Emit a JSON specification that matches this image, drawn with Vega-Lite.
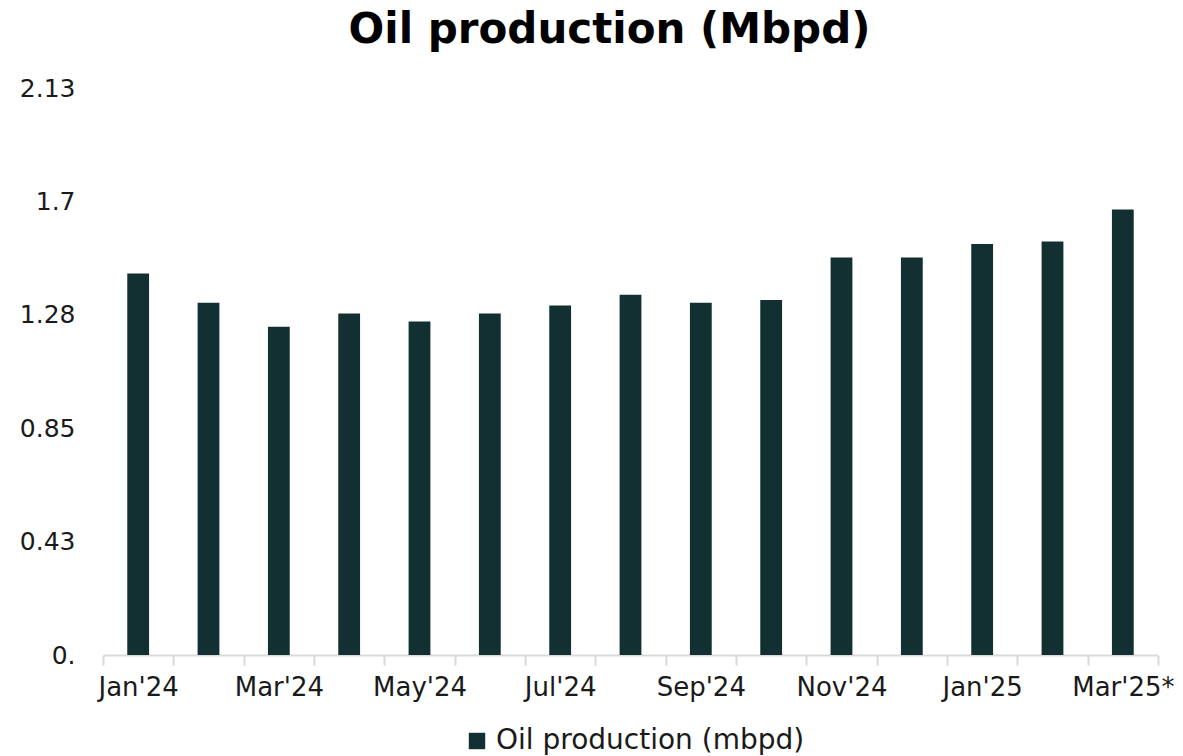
{
  "$schema": "https://vega.github.io/schema/vega-lite/v6.json",
  "autosize": "none",
  "width": 1055,
  "height": 567,
  "padding": {"left": 103, "top": 88, "right": 25, "bottom": 101},
  "background": "white",
  "title": {
    "text": "Oil production (Mbpd)",
    "font": "DejaVu Sans",
    "fontSize": 42,
    "fontWeight": "bold",
    "color": "#000000",
    "anchor": "middle",
    "dx": -21,
    "offset": 24
  },
  "data": {
    "values": [
      {"month": "Jan'24", "value": 1.43},
      {"month": "Feb'24", "value": 1.32},
      {"month": "Mar'24", "value": 1.23},
      {"month": "Apr'24", "value": 1.28},
      {"month": "May'24", "value": 1.25},
      {"month": "Jun'24", "value": 1.28},
      {"month": "Jul'24", "value": 1.31},
      {"month": "Aug'24", "value": 1.35},
      {"month": "Sep'24", "value": 1.32},
      {"month": "Oct'24", "value": 1.33},
      {"month": "Nov'24", "value": 1.49},
      {"month": "Dec'24", "value": 1.49},
      {"month": "Jan'25", "value": 1.54},
      {"month": "Feb'25", "value": 1.55},
      {"month": "Mar'25*", "value": 1.67}
    ]
  },
  "mark": {"type": "bar", "width": {"band": 0.31}},
  "encoding": {
    "x": {
      "field": "month",
      "type": "nominal",
      "sort": null,
      "scale": {"paddingInner": 0, "paddingOuter": 0},
      "axis": {
        "title": null,
        "labelAngle": 0,
        "tickBand": "extent",
        "labelExpr": "indexof(['Jan\\'24','Mar\\'24','May\\'24','Jul\\'24','Sep\\'24','Nov\\'24','Jan\\'25','Mar\\'25*'], datum.value) >= 0 ? datum.value : ''",
        "labelFont": "DejaVu Sans",
        "labelFontSize": 26,
        "labelColor": "#1a1a1a",
        "labelPadding": 9,
        "domainColor": "#d9d9d9",
        "domainWidth": 2,
        "tickColor": "#d9d9d9",
        "tickWidth": 2,
        "tickSize": 10,
        "grid": false
      }
    },
    "y": {
      "field": "value",
      "type": "quantitative",
      "scale": {"domain": [0, 2.125], "nice": false},
      "axis": {
        "title": null,
        "values": [0, 0.425, 0.85, 1.275, 1.7, 2.125],
        "labelExpr": "datum.value == 0 ? '0.' : datum.value == 0.425 ? '0.43' : datum.value == 0.85 ? '0.85' : datum.value == 1.275 ? '1.28' : datum.value == 1.7 ? '1.7' : '2.13'",
        "labelFont": "DejaVu Sans",
        "labelFontSize": 25,
        "labelColor": "#1a1a1a",
        "labelPadding": 28,
        "ticks": false,
        "domain": false,
        "grid": false
      }
    },
    "color": {
      "datum": "Oil production (mbpd)",
      "type": "nominal",
      "scale": {"range": ["#123032"]},
      "legend": {
        "title": null,
        "orient": "none",
        "legendX": 360,
        "legendY": 639,
        "symbolType": "square",
        "symbolSize": 270,
        "symbolStrokeWidth": 0,
        "labelFont": "DejaVu Sans",
        "labelFontSize": 28,
        "labelColor": "#1a1a1a",
        "labelOffset": 5,
        "labelLimit": 0
      }
    }
  },
  "config": {"view": {"stroke": null}}
}
